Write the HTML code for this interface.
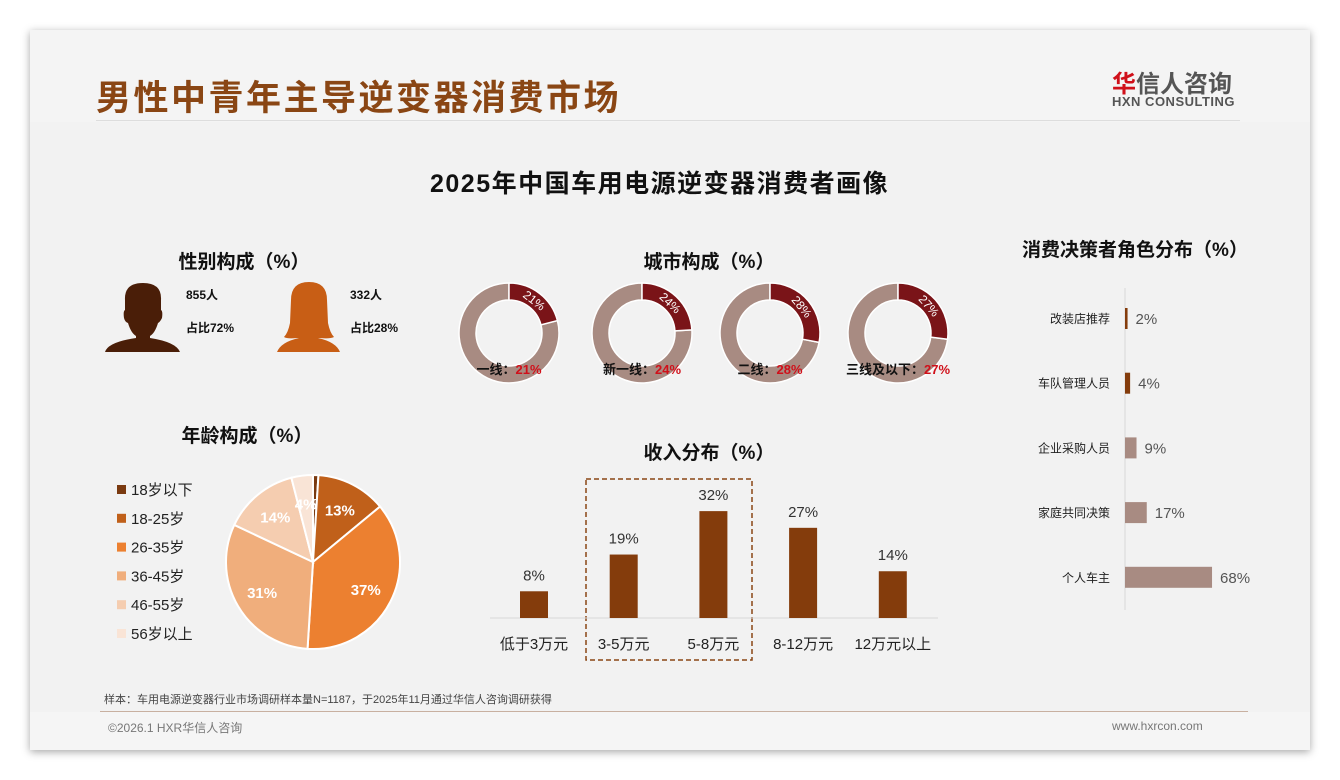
<!DOCTYPE html>
<html><head><meta charset="utf-8">
<style>
body{margin:0;width:1340px;height:780px;background:#fff;overflow:hidden;font-family:"Liberation Sans","Noto Sans CJK SC",sans-serif;}
#card{position:absolute;left:30px;top:30px;width:1280px;height:720px;background:#f2f2f2;box-shadow:0 2px 8px rgba(0,0,0,.35);}
.abs{position:absolute;}
</style></head><body>
<div id="card">
  <div class="abs" style="left:0;top:0;width:1280px;height:92px;background:#f4f4f4"></div>
  <div class="abs" style="left:66px;top:40px;font-size:35px;font-weight:bold;color:#8a4614;letter-spacing:2.5px">男性中青年主导逆变器消费市场</div>
  <div class="abs" style="left:66px;top:90px;width:1144px;height:1px;background:#ddd"></div>
  <div class="abs" style="left:1082px;top:34px;font-size:24px;color:#555;font-weight:bold"><span style="color:#d0101a">华</span>信人咨询</div>
  <div class="abs" style="left:1082px;top:64px;font-size:13px;color:#555;font-weight:bold;letter-spacing:.5px">HXN CONSULTING</div>
  <div class="abs" style="left:400px;top:134px;width:455px;text-align:center;font-size:25px;font-weight:bold;color:#111;letter-spacing:1.5px;white-space:nowrap">2025年中国车用电源逆变器消费者画像</div>
  <div class="abs" style="left:0;top:682px;width:1280px;height:38px;background:#f5f5f5"></div>
  <div class="abs" style="left:70px;top:681px;width:1148px;height:1px;background:#c8b0a0"></div>
  <div class="abs" style="left:74px;top:661px;font-size:11px;color:#444">样本：车用电源逆变器行业市场调研样本量N=1187，于2025年11月通过华信人咨询调研获得</div>
  <div class="abs" style="left:78px;top:689px;font-size:12px;color:#777">©2026.1 HXR华信人咨询</div>
  <div class="abs" style="left:1082px;top:689px;font-size:12px;color:#777">www.hxrcon.com</div>
</div>
<svg class="abs" style="left:0;top:0" width="1340" height="780" id="chart" font-family="Liberation Sans, Noto Sans CJK SC, sans-serif">
  <g>
    <text x="244" y="268" text-anchor="middle" font-size="19" font-weight="bold" fill="#111">性别构成（%）</text>
    <g fill="#4a1e08">
      <path d="M125,300 Q124,283 143,283 Q162,283 161,300 L161,310 Q163,311 162,318 Q160,322 158,323 Q155,333 150,336 L150,338 Q176,342 180,352 L105,352 Q108,342 136,338 L136,336 Q131,333 128,323 Q125,322 124,318 Q123,311 125,310 Z"/>
    </g>
    <g fill="#c85e15">
      <path d="M291,300 Q291,282 309,282 Q327,282 327,300 L328,323 Q330,333 334,337 Q330,339 320,338 L318,338 Q336,342 340,352 L277,352 Q281,342 299,338 L297,338 Q287,339 284,337 Q288,333 290,323 Z"/>
    </g>
    <text x="186" y="299" font-size="12" font-weight="bold" fill="#111">855人</text>
    <text x="186" y="332" font-size="12" font-weight="bold" fill="#111">占比72%</text>
    <text x="350" y="299" font-size="12" font-weight="bold" fill="#111">332人</text>
    <text x="350" y="332" font-size="12" font-weight="bold" fill="#111">占比28%</text>
  </g>
  <text x="247" y="442" text-anchor="middle" font-size="19" font-weight="bold" fill="#111">年龄构成（%）</text>
  <g id="age"></g>
  <text x="709" y="268" text-anchor="middle" font-size="19" font-weight="bold" fill="#111">城市构成（%）</text>
  <g id="city"></g>
  <text x="709" y="459" text-anchor="middle" font-size="19" font-weight="bold" fill="#111">收入分布（%）</text>
  <rect x="586" y="479" width="166" height="181" fill="none" stroke="#8a4614" stroke-width="1.5" stroke-dasharray="5,3"/>
  <g id="income"></g>
  <text x="1135" y="256" text-anchor="middle" font-size="19" font-weight="bold" fill="#111">消费决策者角色分布（%）</text>
  <g id="role"></g>
</svg>
<script>
const ageLabels=['18岁以下','18-25岁','26-35岁','36-45岁','46-55岁','56岁以上'];
const ageValues=[1,13,37,31,14,4];
const ageColors=['#7a3a10','#c0601a','#ec8030','#f0ae7c','#f5cdb0','#f9e4d6'];
const cityLabels=['一线','新一线','二线','三线及以下'];
const cityValues=[21,24,28,27];
const incomeLabels=['低于3万元','3-5万元','5-8万元','8-12万元','12万元以上'];
const incomeValues=[8,19,32,27,14];
const roleLabels=['改装店推荐','车队管理人员','企业采购人员','家庭共同决策','个人车主'];
const roleValues=[2,4,9,17,68];

const NS='http://www.w3.org/2000/svg';
function mk(tag,attrs,parent,txt){const e=document.createElementNS(NS,tag);for(const k in attrs)e.setAttribute(k,attrs[k]);if(txt!==undefined)e.textContent=txt;parent.appendChild(e);return e;}
function pt(cx,cy,r,a){return [cx+r*Math.sin(a),cy-r*Math.cos(a)];}
function arcPath(cx,cy,r0,r1,a0,a1){
  const big=(a1-a0)>Math.PI?1:0;const [x1,y1]=pt(cx,cy,r1,a0),[x2,y2]=pt(cx,cy,r1,a1);
  if(r0===0)return `M${cx},${cy}L${x1},${y1}A${r1},${r1} 0 ${big} 1 ${x2},${y2}Z`;
  const [x3,y3]=pt(cx,cy,r0,a1),[x4,y4]=pt(cx,cy,r0,a0);
  return `M${x1},${y1}A${r1},${r1} 0 ${big} 1 ${x2},${y2}L${x3},${y3}A${r0},${r0} 0 ${big} 0 ${x4},${y4}Z`;}

const ag=document.getElementById('age');
const pcx=313,pcy=562,pr=87;
const ageTot=ageValues.reduce((a,b)=>a+b,0);
let acc=0;
ageValues.forEach((v,i)=>{
  const a0=acc/ageTot*2*Math.PI;acc+=v;const a1=acc/ageTot*2*Math.PI;
  const p=mk('path',{d:arcPath(pcx,pcy,0,pr,a0,a1),fill:ageColors[i],stroke:'#fff','stroke-width':2},ag);
  
  
  const [lx,ly]=pt(pcx,pcy,pr*0.68,(a0+a1)/2);
  const t=mk('text',{x:lx,y:ly+6,'text-anchor':'middle','font-size':15,'font-weight':'bold',fill:'#fff'},ag,v+'%');
  
  
  const ly2=490+i*28.8;
  const s=mk('rect',{x:117,y:ly2-5,width:9,height:9,fill:ageColors[i]},ag);
  
  
  const lt=mk('text',{x:131,y:ly2+5,'font-size':15,fill:'#222'},ag,ageLabels[i]);
  
  
});

const cg=document.getElementById('city');
const cxs=[509,642,770,898];
cityValues.forEach((v,i)=>{
  const cx=cxs[i],cy=333,a1=v/100*2*Math.PI;
  const bg=mk('path',{d:arcPath(cx,cy,33,50,a1,2*Math.PI-0.0001),fill:'#a88b82',stroke:'#fff','stroke-width':1.5},cg);
  
  
  const fg=mk('path',{d:arcPath(cx,cy,33,50,0,a1),fill:'#7a1418',stroke:'#fff','stroke-width':1.5},cg);
  
  
  const [lx,ly]=pt(cx,cy,41,a1/2);
  const t=mk('text',{x:lx,y:ly+4,'text-anchor':'middle','font-size':12,fill:'#fff',transform:`rotate(${a1/2*180/Math.PI} ${lx} ${ly})`},cg,v+'%');
  
  
  const lab=mk('text',{x:cx,y:374,'text-anchor':'middle','font-size':13,'font-weight':'bold',fill:'#111'},cg);
  
  
  mk('tspan',{},lab,cityLabels[i]+'：');
  mk('tspan',{fill:'#d0101a'},lab,v+'%');
});

const ig=document.getElementById('income');
const base=618,ipx=3.34;
const ix=i=>534+i*89.7;
const axis=mk('line',{x1:490,x2:938,y1:base,y2:base,stroke:'#d8d8d8'},ig);


incomeValues.forEach((v,i)=>{
  const h=v*ipx;
  const r=mk('rect',{x:ix(i)-14,y:base-h,width:28,height:h,fill:'#843c0c'},ig);
  
  
  const t=mk('text',{x:ix(i),y:base-h-11,'text-anchor':'middle','font-size':15,fill:'#333'},ig,v+'%');
  
  
  const l=mk('text',{x:ix(i),y:649,'text-anchor':'middle','font-size':15,fill:'#222'},ig,incomeLabels[i]);
  
  
});

const rg=document.getElementById('role');
const rx0=1125,rpx=1.28;
const ax2=mk('line',{x1:rx0,x2:rx0,y1:288,y2:610,stroke:'#d8d8d8'},rg);


roleValues.forEach((v,i)=>{
  const cy=319+i*64.7,w=Math.max(v*rpx,2.5);
  const col=i<2?'#843c0c':'#a88b82';
  const r=mk('rect',{x:rx0,y:cy-11,width:w,height:21,fill:col},rg);
  
  
  const t=mk('text',{x:rx0+w+8,y:cy+5,'font-size':15,fill:'#555'},rg,v+'%');
  
  
  const l=mk('text',{x:1110,y:cy+4,'text-anchor':'end','font-size':12,fill:'#222'},rg,roleLabels[i]);
  
  
});
</script>
</body></html>
